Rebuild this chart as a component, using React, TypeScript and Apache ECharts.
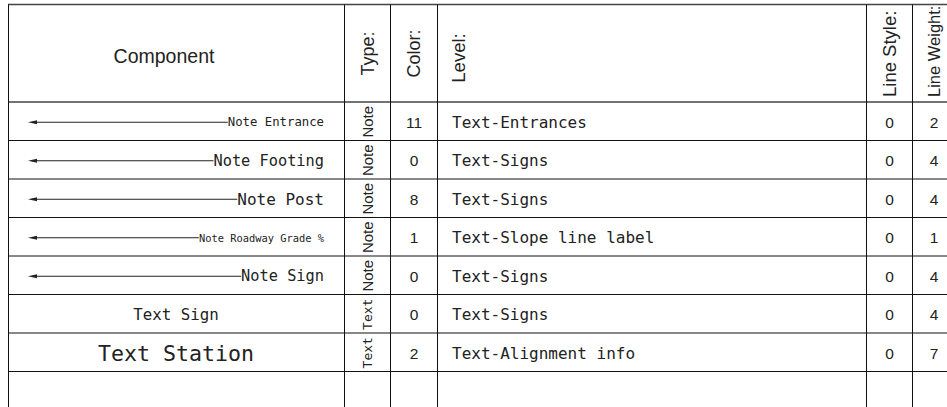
import React, { useEffect, useRef } from "react";
import * as echarts from "echarts";

// ---- data ----
const HEADERS = ["Component", "Type:", "Color:", "Level:", "Line Style:", "Line Weight:"];
const COMPONENTS = ["Note Entrance", "Note Footing", "Note Post", "Note Roadway Grade %", "Note Sign", "Text Sign", "Text Station", ""];
const TYPES = ["Note", "Note", "Note", "Note", "Note", "Text", "Text", ""];
const COLORS = ["11", "0", "8", "1", "0", "0", "2", ""];
const LEVELS = ["Text-Entrances", "Text-Signs", "Text-Signs", "Text-Slope line label", "Text-Signs", "Text-Signs", "Text-Alignment info", ""];
const LINE_STYLES = ["0", "0", "0", "0", "0", "0", "0", ""];
const LINE_WEIGHTS = ["2", "4", "4", "1", "4", "4", "7", ""];

// ---- layout (styles) ----
const COMP_FONT = [12.3, 15.3, 16, 10.4, 15.3, 15.8, 21.6, 14];
const EDGES = [0, 336, 382, 429, 858, 904]; // x-axis units (pixels from left border)
const XMAX = 939;
const ROW_H = 38.5;
const LINE = "#111";
const MONO = "'DejaVu Sans Mono', monospace";
const SANS = "'Liberation Sans', Arial, sans-serif";
const LEFT = 8;
const TOP = 4.5;
const HEAD_BOTTOM = 102;
const H = 407;

export default function App() {
  const ref = useRef<HTMLDivElement>(null);
  useEffect(() => {
    if (!ref.current) return;
    const chart = echarts.init(ref.current, undefined, { renderer: "svg" });
    const px = (v: number) => LEFT + v;

    const graphic: any[] = [];
    graphic.push({ type: "line", shape: { x1: LEFT, y1: TOP, x2: 947, y2: TOP }, style: { stroke: "#444", lineWidth: 1.6 } });
    graphic.push({ type: "line", shape: { x1: LEFT, y1: HEAD_BOTTOM, x2: 947, y2: HEAD_BOTTOM }, style: { stroke: "#444", lineWidth: 1.6 } });
    EDGES.forEach((e) => {
      graphic.push({ type: "line", shape: { x1: px(e) + 0.5, y1: TOP, x2: px(e) + 0.5, y2: HEAD_BOTTOM }, style: { stroke: LINE, lineWidth: 1 } });
    });
    graphic.push({
      type: "text", x: 164, y: 56,
      style: { text: HEADERS[0], font: `19.5px ${SANS}`, fill: "#222", align: "center", verticalAlign: "middle" },
    });
    const vHead = [
      { t: HEADERS[1], x: 368, y: 53.5, align: "center", fs: 18 },
      { t: HEADERS[2], x: 413.5, y: 53.5, align: "center", fs: 18 },
      { t: HEADERS[3], x: 458, y: 58, align: "center", fs: 18.5 },
      { t: HEADERS[4], x: 889, y: 97, align: "left", fs: 18.5 },
      { t: HEADERS[5], x: 934, y: 97, align: "left", fs: 16.5 },
    ];
    vHead.forEach((h) => {
      graphic.push({
        type: "text", x: h.x, y: h.y, rotation: Math.PI / 2,
        style: { text: h.t, font: `${h.fs}px ${SANS}`, fill: "#222", align: h.align, verticalAlign: "middle" },
      });
    });

    const data = COMPONENTS.map((_, i) => [0, i + 0.5]);
    const gridH = H - HEAD_BOTTOM;

    chart.setOption({
      animation: false,
      grid: { left: LEFT, right: 0, top: HEAD_BOTTOM, bottom: 0 },
      xAxis: { type: "value", min: 0, max: XMAX, show: false },
      yAxis: { type: "value", min: 0, max: gridH / ROW_H, inverse: true, show: false },
      graphic,
      series: [
        {
          type: "custom",
          data,
          clip: false,
          encode: { x: 0, y: 1 },
          renderItem: (params: any, api: any) => {
            const v = api.value(1) as number;
            const i = Math.round(v - 0.5);
            const c = api.coord([0, v]);
            const h = Math.abs(api.size([0, 1])[1]);
            const top = c[1] - h / 2;
            const bot = c[1] + h / 2;
            const mid = c[1] + 1;
            const X = (x: number) => api.coord([x, v])[0];
            const ch: any[] = [];
            ch.push({ type: "line", shape: { x1: X(0), y1: bot, x2: X(XMAX), y2: bot }, style: { stroke: LINE, lineWidth: 1 } });
            EDGES.forEach((e) => {
              ch.push({ type: "line", shape: { x1: X(e) + 0.5, y1: top, x2: X(e) + 0.5, y2: bot }, style: { stroke: LINE, lineWidth: 1 } });
            });
            const comp = COMPONENTS[i];
            const fs = COMP_FONT[i];
            if (comp) {
              if (TYPES[i] === "Note") {
                const right = X(EDGES[1]) - 20;
                const w = comp.length * 0.602 * fs;
                const start = right - w;
                const ax = X(0) + 20;
                ch.push({ type: "line", shape: { x1: ax + 4, y1: mid, x2: start, y2: mid }, style: { stroke: "#222", lineWidth: 1 } });
                ch.push({ type: "polygon", shape: { points: [[ax, mid], [ax + 9, mid - 2], [ax + 9, mid + 2]] }, style: { fill: "#222" } });
                ch.push({ type: "text", x: right, y: mid, style: { text: comp, font: `${fs}px ${MONO}`, fill: "#222", align: "right", verticalAlign: "middle" } });
              } else {
                ch.push({ type: "text", x: (X(EDGES[0]) + X(EDGES[1])) / 2, y: mid, style: { text: comp, font: `${fs}px ${MONO}`, fill: "#222", align: "center", verticalAlign: "middle" } });
              }
            }
            if (TYPES[i]) {
              const isNote = TYPES[i] === "Note";
              ch.push({
                type: "text", x: (X(EDGES[1]) + X(EDGES[2])) / 2 + 0.5, y: c[1] + 0.5, rotation: Math.PI / 2,
                style: { text: TYPES[i], font: isNote ? `15px ${SANS}` : `13px ${MONO}`, fill: "#222", align: "center", verticalAlign: "middle" },
              });
            }
            if (COLORS[i]) {
              ch.push({ type: "text", x: (X(EDGES[2]) + X(EDGES[3])) / 2 + 0.5, y: mid, style: { text: COLORS[i], font: `15.5px ${SANS}`, fill: "#222", align: "center", verticalAlign: "middle" } });
            }
            if (LEVELS[i]) {
              ch.push({ type: "text", x: X(EDGES[3]) + 15, y: mid, style: { text: LEVELS[i], font: `16px ${MONO}`, fill: "#222", align: "left", verticalAlign: "middle" } });
            }
            if (LINE_STYLES[i]) {
              ch.push({ type: "text", x: (X(EDGES[4]) + X(EDGES[5])) / 2 + 0.5, y: mid, style: { text: LINE_STYLES[i], font: `15.5px ${SANS}`, fill: "#222", align: "center", verticalAlign: "middle" } });
            }
            if (LINE_WEIGHTS[i]) {
              ch.push({ type: "text", x: X(EDGES[5]) + 22, y: mid, style: { text: LINE_WEIGHTS[i], font: `15.5px ${SANS}`, fill: "#222", align: "center", verticalAlign: "middle" } });
            }
            return { type: "group", children: ch };
          },
        },
      ],
    });
    return () => chart.dispose();
  }, []);
  return <div ref={ref} style={{ position: "fixed", left: 0, top: 0, width: 947, height: H, background: "#fff" }} />;
}
